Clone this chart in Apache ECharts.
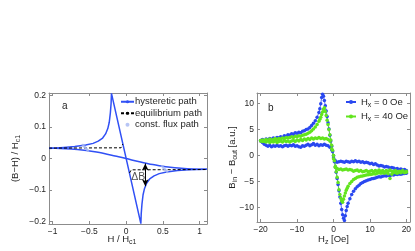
<!DOCTYPE html>
<html><head><meta charset="utf-8">
<script src="https://cdn.jsdelivr.net/npm/echarts@6/dist/echarts.min.js"></script>
<style>html,body{margin:0;padding:0;background:#fff}#c{width:415px;height:251px}</style>
</head><body><div id="c"></div>
<script>
// ---------- Panel a data ----------
const hystX = [-1.05,-0.95,-0.85,-0.7,-0.55,-0.45,-0.38,-0.32,-0.28,-0.25,-0.23,-0.215,-0.205,-0.2,
               0.2,0.205,0.215,0.23,0.25,0.28,0.32,0.38,0.45,0.55,0.7,0.85,0.95,1.1];
const hystY = [0.032,0.033,0.035,0.038,0.043,0.048,0.055,0.065,0.078,0.095,0.115,0.145,0.175,0.207,
               -0.207,-0.175,-0.145,-0.115,-0.095,-0.078,-0.065,-0.055,-0.048,-0.043,-0.038,-0.036,-0.035,-0.034];
const descX = [-1.05,-0.9,-0.75,-0.6,-0.45,-0.3,-0.15,0,0.15,0.3,0.45,0.6,0.75,0.9,1.1];
const descY = [0.033,0.032,0.030,0.027,0.022,0.016,0.008,0,-0.009,-0.017,-0.023,-0.028,-0.031,-0.033,-0.034];
const eqX = [-1.05,-0.07,-0.055,-0.045,0,0.045,0.055,0.07,1.1];
const eqY = [0.033,0.034,0.039,0.046,null,-0.046,-0.040,-0.036,-0.035];
const fluxX = [-0.59,-0.575,-0.56,-0.545,-0.53,-0.52,0.49,0.505,0.52,0.535,0.55,0.56];
const fluxY = [0.043,0.039,0.036,0.032,0.028,0.025,-0.025,-0.029,-0.033,-0.036,-0.040,-0.043];
const arrowX = [0.26,0.26];
const arrowY = [-0.016,-0.088];
const dBLabel = [0.165,-0.06];
const aXTicks = [-1,-0.5,0,0.5,1];
const aYTicks = [-0.2,-0.1,0,0.1,0.2];

// ---------- Panel b data ----------
const hzA = [-20,-19.5,-19,-18.5,-18,-17.5,-17,-16.5,-16,-15.5,-15,-14.5,-14,-13.5,-13,-12.5,-12,-11.5,-11,-10.5,-10,-9.5,-9,-8.5,-8,-7.5,-7,-6.5,-6,-5.5,-5,-4.5,-4,
  -3.75,-3.5,-3.25,-3,-2.75,-2.5,-2.25,-2,-1.75,-1.5,-1.25,-1,-0.75,-0.5,-0.25,0,0.25,0.5,0.75,1,1.25,1.5,1.75,2,2.25,2.5,2.75,3,3.25,3.5,3.75,
  4,4.5,5,5.5,6,6.5,7,7.5,8,8.5,9,9.5,10,10.5,11,11.5,12,12.5,13,13.5,14,14.5,15,15.5,16,16.5,17,17.5,18,18.5,19,19.5,20];
const blueA = [2.9,3.1,2.8,3.2,3.0,3.3,3.1,3.4,3.3,3.5,3.4,3.6,3.5,3.8,3.7,4.0,3.9,4.2,4.1,4.4,4.3,4.5,4.4,4.7,4.8,5.0,5.1,5.4,5.8,6.2,6.7,7.4,8.3,
  9.0,10.0,11.2,11.8,11.4,10.6,9.6,8.6,7.5,6.3,5.1,3.9,2.8,1.8,0.8,-0.3,-1.2,-2.2,-3.2,-4.4,-5.6,-6.8,-8.0,-9.2,-10.4,-11.4,-12.1,-12.5,-11.6,-10.6,-9.8,
  -9.2,-8.3,-7.5,-6.9,-6.4,-6.0,-5.7,-5.4,-5.2,-5.0,-4.85,-4.7,-4.6,-4.45,-4.4,-4.3,-4.2,-4.1,-4.15,-4.0,-3.9,-3.95,-3.8,-3.85,-3.7,-3.75,-3.6,-3.65,-3.55,-3.6,-3.5,-3.45,-3.4];
const greenA = [2.8,3.0,2.7,3.1,2.9,3.2,3.0,3.1,3.3,3.1,3.3,3.2,3.4,3.3,3.5,3.4,3.5,3.6,3.5,3.7,3.6,3.8,3.7,3.9,4.0,4.1,4.3,4.5,4.8,5.1,5.5,6.0,6.6,
  7.0,7.4,7.9,8.4,8.9,9.2,8.5,7.7,6.8,6.0,5.0,4.0,3.0,2.0,1.0,0.0,-1.0,-2.1,-3.1,-4.2,-5.2,-6.6,-7.5,-8.2,-8.7,-9.0,-8.4,-7.8,-7.2,-6.7,-6.3,
  -5.9,-5.4,-5.0,-4.6,-4.4,-4.2,-4.1,-4.0,-3.95,-3.85,-3.75,-3.7,-3.65,-3.6,-3.5,-3.55,-3.4,-3.3,-3.4,-3.3,-3.4,-3.2,-3.5,-4.4,-3.6,-3.2,-3.3,-3.4,-3.2,-3.3,-3.1,-3.3,-3.2];
const hzB = [20,19.5,19,18.5,18,17.5,17,16.5,16,15.5,15,14.5,14,13.5,13,12.5,12,11.5,11,10.5,10,9.5,9,8.5,8,7.5,7,6.5,6,5.5,5,4.5,4,3.5,3,2.5,2,1.5,1,0.5,
  0,-0.5,-1,-1.5,-2,-2.5,-3,-3.5,-4,-4.5,-5,-5.5,-6,-6.5,-7,-7.5,-8,-8.5,-9,-9.5,-10,-10.5,-11,-11.5,-12,-12.5,-13,-13.5,-14,-14.5,-15,-15.5,-16,-16.5,-17,-17.5,-18,-18.5,-19,-19.5,-20];
const blueB = [-2.9,-2.7,-2.8,-2.6,-2.7,-2.5,-2.6,-2.4,-2.3,-2.4,-2.2,-2.1,-2.2,-2.0,-1.9,-2.0,-1.8,-1.6,-1.7,-1.5,-1.6,-1.4,-1.3,-1.4,-1.2,-1.3,-1.1,-1.2,-1.0,-1.2,-1.1,-1.3,-1.2,-1.1,-1.3,-1.2,-1.1,-1.2,-1.3,-1.0,
  0.0,1.1,1.6,1.9,2.0,2.2,2.0,2.1,1.9,2.2,2.0,2.3,2.1,1.9,2.2,2.0,1.8,1.9,1.6,1.7,1.9,1.8,2.1,1.9,2.0,1.8,2.0,1.9,1.7,1.9,1.8,2.0,1.8,1.9,1.7,2.0,1.8,2.0,2.2,2.5,2.8];
const greenB = [-3.0,-3.2,-2.9,-3.1,-3.0,-3.2,-2.9,-3.1,-3.0,-2.8,-3.0,-2.9,-3.1,-2.9,-3.0,-2.8,-3.0,-2.9,-3.1,-2.9,-3.0,-3.1,-2.9,-3.0,-3.1,-2.9,-3.0,-2.8,-2.9,-3.0,-2.8,-2.7,-2.8,-2.6,-2.7,-2.8,-2.6,-2.7,-2.5,-2.3,
  -0.6,1.3,2.8,3.1,3.3,3.2,3.4,3.3,3.5,3.3,3.4,3.2,3.4,3.1,3.3,3.0,3.2,2.9,3.1,2.8,3.0,2.7,2.9,2.8,2.6,2.8,2.7,2.9,2.6,2.8,2.7,2.5,2.8,2.6,2.7,2.5,2.8,2.6,2.9,2.7,2.9];
const bXTicks = [-20,-10,0,10,20];
const bYTicks = [-10,-5,0,5,10];
const seriesNames = ['Hx0','Hx40'];
const legendLabels = {Hx0: ['H','x',' = 0 Oe'], Hx40: ['H','x',' = 40 Oe']};

// ---------- Build chart ----------
const FONT = 'Liberation Sans, Arial, Helvetica, sans-serif';
const TXT = '#262626', FRAME = '#8c8c8c';
const BLUE = '#3050f5', LIGHT = '#a5b6f2', DBLUE = '#2a48f0', GREEN = '#62e41e';
const fmt = v => (v < 0 ? '\u2212' + Math.abs(v) : String(v));
const pair = (xs, ys) => xs.map((x, i) => [x, ys[i] === null ? '-' : ys[i]]);

function mkAxis(grid, pos, min, max, ticks, labels, extra) {
  return Object.assign({
    type: 'value', gridIndex: grid, position: pos, min: min, max: max,
    nameMoveOverlap: false,
    axisLine: {show: true, onZero: false, lineStyle: {color: FRAME, width: 1}},
    axisTick: {show: true, inside: true, length: 3, customValues: ticks, lineStyle: {color: FRAME}},
    axisLabel: {show: labels, customValues: ticks, formatter: fmt, fontSize: 8.5, color: TXT, fontFamily: FONT, margin: 3},
    splitLine: {show: false}
  }, extra || {});
}
const richName = {
  n: {fontSize: 9.5, color: TXT, fontFamily: FONT},
  s: {fontSize: 7, color: TXT, fontFamily: FONT, padding: [6, 0, 0, 0], verticalAlign: 'bottom'}
};

const chart = echarts.init(document.getElementById('c'), null, {renderer: 'canvas'});
chart.setOption({
  animation: false,
  backgroundColor: '#fff',
  grid: [
    {left: 49, right: 208, top: 93, bottom: 27},
    {left: 257, right: 5, top: 93, bottom: 27}
  ],
  xAxis: [
    mkAxis(0, 'bottom', -1.05, 1.1, aXTicks, true, {
      name: '{n|H / H}{s|c1}', nameLocation: 'middle', nameGap: 9,
      nameTextStyle: {rich: richName, padding: [0, 12, 0, 0]}
    }),
    mkAxis(0, 'top', -1.05, 1.1, aXTicks, false),
    mkAxis(1, 'bottom', -21, 21, bXTicks, true, {
      name: '{n|H}{s|z}{n| [Oe]}', nameLocation: 'middle', nameGap: 11,
      nameTextStyle: {rich: richName}
    }),
    mkAxis(1, 'top', -21, 21, bXTicks, false)
  ],
  yAxis: [
    mkAxis(0, 'left', -0.208, 0.208, aYTicks, true, {
      name: '{n|(B\u2212H) / H}{s|c1}', nameLocation: 'middle', nameGap: 27,
      nameTextStyle: {rich: richName}
    }),
    mkAxis(0, 'right', -0.208, 0.208, aYTicks, false),
    mkAxis(1, 'left', -12.8, 12.05, bYTicks, true, {
      name: '{n|B}{s|in}{n| \u2212 B}{s|out}{n| [a.u.]}', nameLocation: 'middle', nameGap: 18,
      nameTextStyle: {rich: richName}
    }),
    mkAxis(1, 'right', -12.8, 12.05, bYTicks, false)
  ],
  legend: [
    {
      data: [{name: 'hysteretic path'}, {name: 'equilibrium path'}, {name: 'const. flux path', icon: 'circle'}],
      orient: 'vertical', left: 120, top: 96, itemWidth: 13, itemHeight: 4, itemGap: 0, padding: 0,
      textStyle: {fontSize: 9.5, color: TXT, fontFamily: FONT, lineHeight: 11.5, padding: [0, 0, 0, -4]}
    },
    {
      data: seriesNames, orient: 'vertical', left: 345, top: 97, itemWidth: 10, itemHeight: 5, itemGap: 3, padding: 0,
      formatter: n => '{n|' + legendLabels[n][0] + '}{s|' + legendLabels[n][1] + '}{n|' + legendLabels[n][2] + '}',
      textStyle: {fontSize: 9.5, color: TXT, fontFamily: FONT, rich: richName}
    }
  ],
  graphic: [
    {type: 'text', left: 62, top: 101, style: {text: 'a', fontSize: 10, fill: TXT, fontFamily: FONT}},
    {type: 'text', left: 268, top: 103, style: {text: 'b', fontSize: 10, fill: TXT, fontFamily: FONT}}
  ],
  series: [
    {name: 'hysteretic path', type: 'line', xAxisIndex: 0, yAxisIndex: 0, data: pair(hystX, hystY),
     symbol: 'none', lineStyle: {color: BLUE, width: 1.5}, itemStyle: {color: BLUE}, z: 3},
    {name: 'hysteretic path', type: 'line', xAxisIndex: 0, yAxisIndex: 0, data: pair(descX, descY), smooth: 0.3,
     symbol: 'none', lineStyle: {color: BLUE, width: 1.5}, itemStyle: {color: BLUE}, z: 3},
    {name: 'equilibrium path', type: 'line', xAxisIndex: 0, yAxisIndex: 0, data: pair(eqX, eqY), connectNulls: false,
     symbol: 'none', lineStyle: {color: '#000', width: 1, type: [3, 2]}, itemStyle: {color: '#000'}, z: 4},
    {name: 'const. flux path', type: 'scatter', xAxisIndex: 0, yAxisIndex: 0, data: pair(fluxX, fluxY),
     symbol: 'circle', symbolSize: 2.5, itemStyle: {color: LIGHT}, z: 5},
    {name: 'dB', type: 'scatter', xAxisIndex: 0, yAxisIndex: 0, data: [dBLabel], symbolSize: 0,
     label: {show: true, formatter: '\u0394B', position: 'inside', fontSize: 10.5, color: TXT, fontFamily: FONT},
     markLine: {silent: true, symbol: ['arrow', 'arrow'], symbolSize: [5, 7], label: {show: false},
       lineStyle: {color: '#000', width: 1, type: 'solid'},
       data: [[{coord: [arrowX[0], arrowY[0]]}, {coord: [arrowX[1], arrowY[1]]}]]}, z: 6},
    {name: 'Hx0', type: 'line', xAxisIndex: 2, yAxisIndex: 2,
     data: pair(hzB, blueB).concat(pair(hzA, blueA)),
     symbol: 'circle', symbolSize: 3.5, showAllSymbol: true,
     lineStyle: {color: DBLUE, width: 0.8}, itemStyle: {color: DBLUE}},
    {name: 'Hx40', type: 'line', xAxisIndex: 2, yAxisIndex: 2,
     data: pair(hzB, greenB).concat(pair(hzA, greenA)),
     symbol: 'circle', symbolSize: 3.5, showAllSymbol: true,
     lineStyle: {color: GREEN, width: 0.8}, itemStyle: {color: GREEN}}
  ]
});
</script></body></html>
